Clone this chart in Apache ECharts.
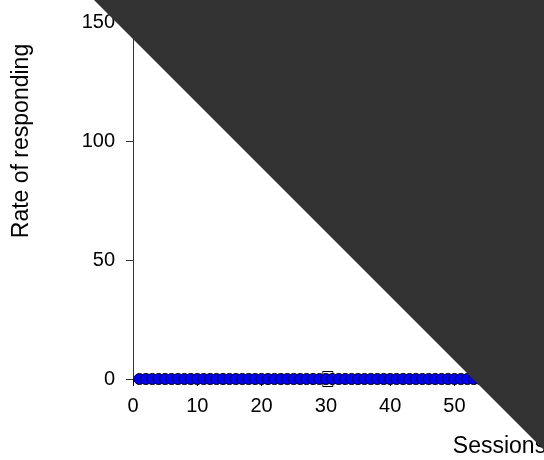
<!DOCTYPE html>
<html>
<head>
<meta charset="utf-8">
<script src="https://cdn.jsdelivr.net/npm/echarts@6/dist/echarts.min.js"></script>
<style>html,body{margin:0;padding:0;background:#fff;}#chart{width:544px;height:460px;}</style>
</head>
<body>
<div id="chart"></div>
<script>
// Data
const sessions = [1,2,3,4,5,6,7,8,9,10,11,12,13,14,15,16,17,18,19,20,21,22,23,24,25,26,27,28,29,30,31,32,33,34,35,36,37,38,39,40,41,42,43,44,45,46,47,48,49,50,51,52,53,54,55];
const rates = [0,0,0,0,0,0,0,0,0,0,0,0,0,0,0,0,0,0,0,0,0,0,0,0,0,0,0,0,0,0,0,0,0,0,0,0,0,0,0,0,0,0,0,0,0,0,0,0,0,0,0,0,0,0,0];
const squareSessions = [30.3];
const squareRates = [0];
const yTicks = [0, 50, 100, 150, 200];
const xTicks = [0, 10, 20, 30, 40, 50, 60, 70, 80, 90, 100, 110];

const chart = echarts.init(document.getElementById('chart'), null, {renderer: 'canvas'});
const font = 'Liberation Sans, Arial, sans-serif';
chart.setOption({
  animation: false,
  backgroundColor: '#ffffff',
  grid: {left: 133, right: -322, top: -97, bottom: 81, containLabel: false, outerBoundsMode: 'none'},
  xAxis: {
    type: 'value', min: 0, max: 114,
    name: 'Sessions', nameLocation: 'middle', nameGap: 56,
    nameTextStyle: {fontFamily: font, fontSize: 23, color: '#000'},
    axisLine: {show: true, lineStyle: {color: '#000', width: 1}},
    axisTick: {show: true, length: 7, lineStyle: {color: '#000'}, customValues: xTicks},
    axisLabel: {fontFamily: font, fontSize: 20, color: '#000', margin: 17, customValues: xTicks},
    splitLine: {show: false}
  },
  yAxis: {
    type: 'value', min: 0, max: 200,
    name: 'Rate of responding', nameLocation: 'middle', nameGap: 100,
    nameTextStyle: {fontFamily: font, fontSize: 23, color: '#000'},
    axisLine: {show: true, lineStyle: {color: '#333', width: 1}},
    axisTick: {show: true, length: 7, lineStyle: {color: '#333'}, customValues: yTicks},
    axisLabel: {fontFamily: font, fontSize: 20, color: '#000', margin: 18, customValues: yTicks},
    splitLine: {show: false}
  },
  series: [
    {
      type: 'scatter', symbol: 'rect', symbolSize: [10, 15], z: 2,
      itemStyle: {color: '#fff', borderColor: '#000', borderWidth: 1, opacity: 1},
      data: squareSessions.map((s, i) => [s, squareRates[i]]),
      silent: true
    },
    {
      type: 'scatter', symbol: 'circle', symbolSize: 11, z: 3,
      itemStyle: {color: '#0000ff', borderColor: '#000', borderWidth: 1, opacity: 1},
      data: sessions.map((s, i) => [s, rates[i]]),
      silent: true
    }
  ],
  graphic: [{
    type: 'polygon', z: 100, silent: true,
    shape: {points: [[94, 0], [620, 0], [620, 526]]},
    style: {fill: '#333333'}
  }]
});
</script>
</body>
</html>
